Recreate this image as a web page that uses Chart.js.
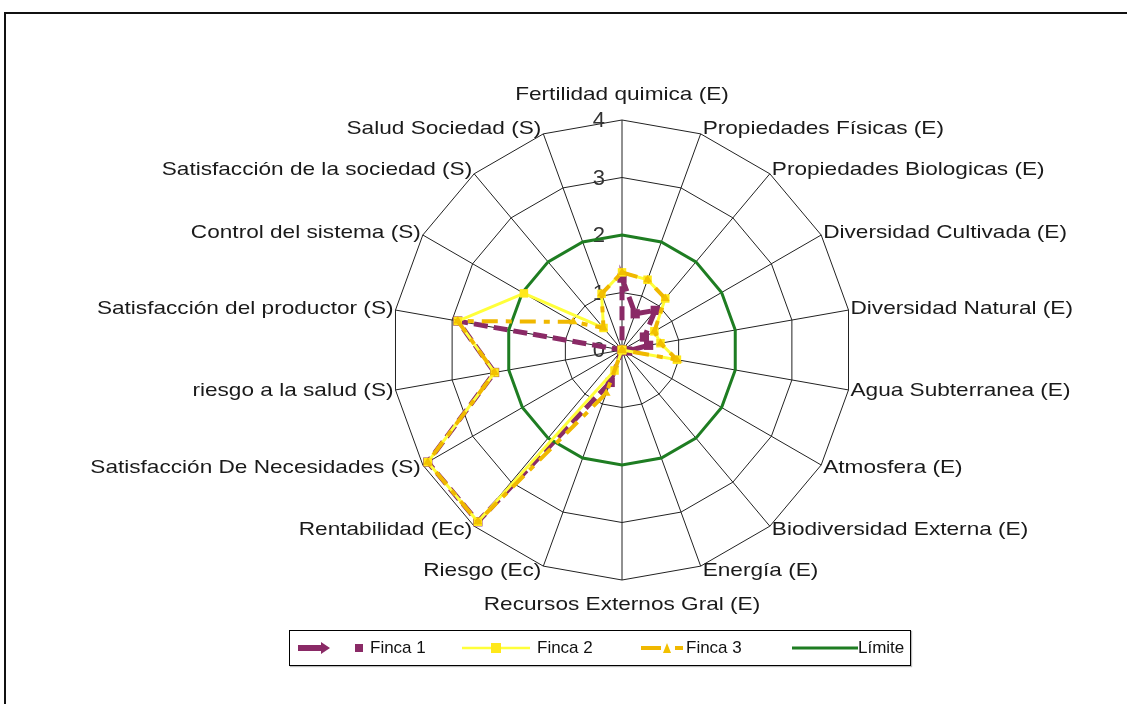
<!DOCTYPE html>
<html>
<head>
<meta charset="utf-8">
<script src="https://cdn.jsdelivr.net/npm/chart.js@4/dist/chart.umd.min.js"></script>
<style>
html, body { margin:0; padding:0; background:#fff; }
#wrap { position:relative; width:1127px; height:704px; overflow:hidden; background:#fff; }
#frame { position:absolute; left:4px; top:12px; width:1200px; height:800px; border:2px solid #111; }
#myChart { position:absolute; left:0; top:0; }
#legend { position:absolute; left:289px; top:630px; width:620px; height:34px; border:1.5px solid #000; background:#fff; box-shadow:1px 1px 1px #bbb; }
.it { position:absolute; top:0; height:34px; }
.it svg { position:absolute; top:10px; }
.it span { position:absolute; top:7px; font:17px "Liberation Sans", Arial, sans-serif; color:#111; white-space:nowrap; }
</style>
</head>
<body>
<div id="wrap">
  <div id="frame"></div>
  <canvas id="myChart" width="1127" height="704"></canvas>
  <div id="legend"></div>
</div>
<script>
const categorias = ['Fertilidad quimica (E)', 'Propiedades Físicas (E)', 'Propiedades Biologicas (E)',
  'Diversidad Cultivada (E)', 'Diversidad Natural (E)', 'Agua Subterranea (E)', 'Atmosfera (E)',
  'Biodiversidad Externa (E)', 'Energía (E)', 'Recursos Externos Gral (E)', 'Riesgo (Ec)',
  'Rentabilidad (Ec)', 'Satisfacción De Necesidades (S)', 'riesgo a la salud (S)',
  'Satisfacción del productor (S)', 'Control del sistema (S)', 'Satisfacción de la sociedad (S)',
  'Salud Sociedad (S)'];

const finca1 = [1.25, 0.67, 0.9, 0.45, 0.47, 0.1, 0, 0, 0, 0, 0.6, 3.9, 3.9, 2.25, 2.9, 0, 0, 0];
const finca2 = [1.35, 1.3, 1.17, 0.65, 0.68, 0.97, 0, 0, 0, 0, 0.38, 3.9, 3.9, 2.25, 2.9, 1.97, 0.5, 1.04];
const finca3 = [1.35, 1.3, 1.17, 0.65, 0.68, 0.97, 0, 0, 0, 0, 0.8, 3.9, 3.9, 2.25, 2.9, 0.98, 0.5, 1.04];
const limite = [2, 2, 2, 2, 2, 2, 2, 2, 2, 2, 2, 2, 2, 2, 2, 2, 2, 2];
const nombres = ['Finca 1', 'Finca 2', 'Finca 3', 'Límite'];

// texts around the web + tick numbers, placed with the scale itself
const textos = {
    id: 'textos',
    beforeDatasetsDraw(chart){
        const s = chart.scales.r, ctx = chart.ctx;
        ctx.save();
        ctx.font = '22px "Liberation Sans", Arial, sans-serif';
        ctx.fillStyle = '#333';
        ctx.textAlign = 'right';
        ctx.textBaseline = 'middle';
        s.ticks.forEach(t => {
            const d = s.getDistanceFromCenterForValue(t.value);
            ctx.fillText(String(t.value), s.xCenter - 17, s.yCenter - d + 1);
        });
        ctx.restore();
    },
    afterDraw(chart){
        const s = chart.scales.r, ctx = chart.ctx;
        const n = categorias.length;
        ctx.save();
        ctx.font = '19px "Liberation Sans", Arial, sans-serif';
        ctx.fillStyle = '#1a1a1a';
        ctx.textBaseline = 'middle';
        categorias.forEach((txt, i) => {
            const p = s.getPointPosition(i, s.drawingArea);
            const a = i * 2 * Math.PI / n;
            let x = p.x, y = p.y;
            if (i === 0) { ctx.textAlign = 'center'; y -= 25; }
            else if (i === n/2) { ctx.textAlign = 'center'; y += 25; }
            else if (i < n/2) { ctx.textAlign = 'left'; x += 2; y -= Math.cos(a)*5; }
            else { ctx.textAlign = 'right'; x -= 2; y -= Math.cos(a)*5; }
            ctx.save();
            ctx.translate(x, y);
            ctx.scale(1.19, 1);   // source font is a bit wider than Liberation Sans
            ctx.fillText(txt, 0, 0);
            ctx.restore();
        });
        ctx.restore();
    }
};

const ctx = document.getElementById('myChart').getContext('2d');
const myChart = new Chart(ctx, {
    type: 'radar',
    data: {
        labels: categorias,
        datasets: [{
            label: nombres[0],
            data: finca1,
            borderColor: '#8a2a66',
            backgroundColor: '#8a2a66',
            borderWidth: 5,
            borderDash: [14, 6],
            pointStyle: 'rect',
            pointRadius: 3,
            fill: false,
            order: 4
        },
        {
            label: nombres[3],
            data: limite,
            borderColor: '#1e7d22',
            borderWidth: 3,
            pointRadius: 0,
            fill: false,
            order: 3
        },
        {
            label: nombres[1],
            data: finca2,
            borderColor: '#ffff3a',
            backgroundColor: '#ffe81a',
            borderWidth: 3,
            pointStyle: 'rect',
            pointRadius: 6,
            pointBorderWidth: 0,
            fill: false,
            order: 2
        },
        {
            label: nombres[2],
            data: finca3,
            borderColor: '#f0b800',
            backgroundColor: '#f2c000',
            borderWidth: 4,
            borderDash: [16, 8, 6, 8],
            pointStyle: 'triangle',
            pointRadius: 5,
            pointBorderWidth: 0,
            fill: false,
            order: 1
        }]
    },
    options: {
        responsive: false,
        animation: false,
        layout: { padding: { left: 392, top: 120, right: 275, bottom: 124 } },
        plugins: { legend: { display: false }, tooltip: { enabled: false } },
        scales: {
            r: {
                min: 0,
                max: 4,
                ticks: { stepSize: 1, display: false },
                grid: { color: '#222', lineWidth: 1 },
                angleLines: { color: '#222', lineWidth: 1 },
                pointLabels: { display: false }
            }
        }
    },
    plugins: [textos]
});

// legend box
const simbolos = [
  '<svg width="70" height="14"><path d="M1 4 H24 V1 L33 7 L24 13 V10 H1 Z" fill="#8a2a66"/><rect x="58" y="3" width="8" height="8" fill="#8a2a66"/></svg>',
  '<svg width="70" height="14"><line x1="0" y1="7" x2="68" y2="7" stroke="#ffff3a" stroke-width="2.5"/><rect x="29" y="2" width="10" height="10" fill="#ffe81a"/></svg>',
  '<svg width="50" height="14"><line x1="0" y1="7" x2="20" y2="7" stroke="#f0b800" stroke-width="4"/><path d="M22 12 L26 2 L30 12 Z" fill="#f2c000"/><line x1="34" y1="7" x2="42" y2="7" stroke="#f0b800" stroke-width="4"/></svg>',
  '<svg width="66" height="14"><line x1="0" y1="7" x2="66" y2="7" stroke="#1e7d22" stroke-width="3"/></svg>'
];
const symX = [7, 172, 351, 502];
const txtX = [80, 247, 396, 568];
const leg = document.getElementById('legend');
nombres.forEach((nm, i) => {
    const d = document.createElement('div');
    d.className = 'it';
    d.style.left = '0px';
    d.innerHTML = simbolos[i].replace('<svg', '<svg style="left:' + symX[i] + 'px"') +
        '<span style="left:' + txtX[i] + 'px">' + nm + '</span>';
    leg.appendChild(d);
});
</script>
</body>
</html>
